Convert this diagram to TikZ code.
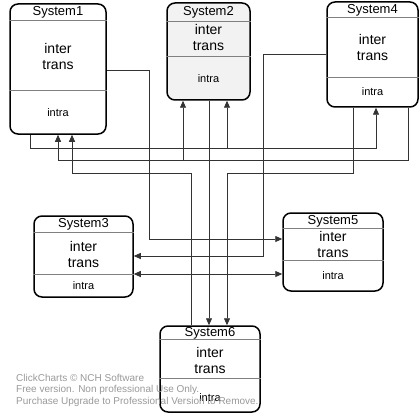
\documentclass[tikz,border=0pt]{standalone}
\usepackage{fontspec}
\setmainfont{Liberation Sans}
\usepackage{tikz}
\usetikzlibrary{positioning, calc, arrows.meta}
\tikzset{>={Triangle[length=7pt,width=6pt]}}

\begin{document}
\begin{tikzpicture}
    [x=1pt, y=-1pt,
     sysbox/.style={draw, line width=1.5pt, rounded corners=8pt, inner sep=0pt, fill=white},
     sep/.style={draw=gray, line width=0.8pt},
     conn/.style={draw=black!80, line width=0.8pt},
     tname/.style={font=\fontsize{13}{15}\selectfont, inner sep=0pt},
     body/.style={font=\fontsize{14}{16}\selectfont, align=center, inner sep=0pt},
     lower/.style={font=\fontsize{11}{13}\selectfont, inner sep=0pt},
     wmark/.style={font=\fontsize{10}{12}\selectfont, text=black!40, align=left, inner sep=0pt}]

    \useasboundingbox (0,0) rectangle (419,414);

    % the six systems
    \node[sysbox, minimum width=96pt, minimum height=130pt] (s1) at (58,69) {};
    \node[sysbox, fill=gray!10, minimum width=83pt, minimum height=97pt] (s2) at (208.5,51.5) {};
    \node[sysbox, minimum width=99pt, minimum height=81pt] (s3) at (83.5,256.5) {};
    \node[sysbox, minimum width=91pt, minimum height=105pt] (s4) at (372.5,54.5) {};
    \node[sysbox, minimum width=100pt, minimum height=78pt] (s5) at (333,252) {};
    \node[sysbox, minimum width=100pt, minimum height=86pt] (s6) at (210,369) {};

    % compartments
    \draw[sep] (s1.west |- 0,20) -- (s1.east |- 0,20);
    \draw[sep] (s1.west |- 0,90) -- (s1.east |- 0,90);
    \draw[sep] (s2.west |- 0,21) -- (s2.east |- 0,21);
    \draw[sep] (s2.west |- 0,56) -- (s2.east |- 0,56);
    \draw[sep] (s3.west |- 0,232) -- (s3.east |- 0,232);
    \draw[sep] (s3.west |- 0,274) -- (s3.east |- 0,274);
    \draw[sep] (s4.west |- 0,17) -- (s4.east |- 0,17);
    \draw[sep] (s4.west |- 0,77) -- (s4.east |- 0,77);
    \draw[sep] (s5.west |- 0,228) -- (s5.east |- 0,228);
    \draw[sep] (s5.west |- 0,260) -- (s5.east |- 0,260);
    \draw[sep] (s6.west |- 0,339) -- (s6.east |- 0,339);
    \draw[sep] (s6.west |- 0,378) -- (s6.east |- 0,378);

    \node[tname] (s1name) at (58,12) {System1};
    \node[body] (s1inter) at (58,56) {inter\\trans};
    \node[lower] (s1intra) at (58,113) {intra};

    \node[tname] (s2name) at (208.5,12) {System2};
    \node[body] (s2inter) at (208.5,37) {inter\\trans};
    \node[lower] (s2intra) at (208.5,79) {intra};

    \node[tname] (s3name) at (83.5,224) {System3};
    \node[body] (s3inter) at (83.5,254.5) {inter\\trans};
    \node[lower] (s3intra) at (83.5,286) {intra};

    \node[tname] (s4name) at (372.5,10) {System4};
    \node[body] (s4inter) at (372.5,47) {inter\\trans};
    \node[lower] (s4intra) at (372.5,92) {intra};

    \node[tname] (s5name) at (333,221) {System5};
    \node[body] (s5inter) at (333,244.5) {inter\\trans};
    \node[lower] (s5intra) at (333,276) {intra};

    \node[tname] (s6name) at (210,333) {System6};
    \node[body] (s6inter) at (210,360) {inter\\trans};
    \node[lower] (s6intra) at (210,398) {intra};

    % connectors
    \coordinate (j1) at (183,160);
    \coordinate (j2) at (227,148);

    \draw[conn, ->] (s1.east |- 0,70) -| (149,239) -- (s5.west |- 0,239);
    \draw[conn, ->] (s1.south -| 30,0) |- (376,148) -- (s4.south -| 376,0);
    \draw[conn, ->] (j2) -- (s2.south -| j2);
    \draw[conn, ->] (s4.south -| 408,0) |- (58,160) -- (s1.south -| 58,0);
    \draw[conn, ->] (j1) -- (s2.south -| j1);
    \draw[conn, ->] (s6.north -| 191,0) |- (72,173) -- (s1.south -| 72,0);
    \draw[conn, ->] (s4.south -| 353,0) |- (227,173) -- (s6.north -| 227,0);
    \draw[conn, ->] (s4.west |- 0,54) -| (263,256) -- (s3.east |- 0,256);
    \draw[conn, ->] (s2.south -| 209,0) -- (s6.north -| 209,0);
    \draw[conn, <->] (s3.east |- 0,274) -- (s5.west |- 0,274);

    \node[wmark, anchor=west] (wm1) at (16,378) {ClickCharts © NCH Software};
    \node[wmark, anchor=west] (wm2) at (16,390) {Free version. Non professional Use Only.};
    \node[wmark, anchor=west] (wm3) at (16,402) {Purchase Upgrade to Professional Version to Remove.};
  \end{tikzpicture}
\end{document}
